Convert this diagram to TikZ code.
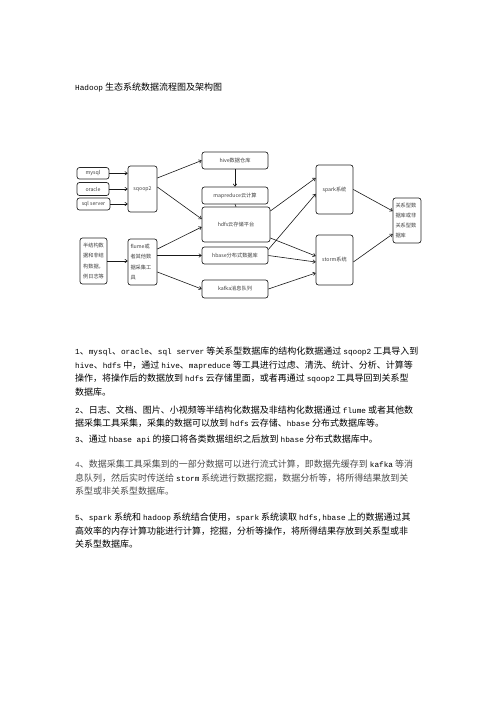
\documentclass[tikz,border=0pt]{standalone}
\usepackage{fontspec}
\usetikzlibrary{arrows.meta}
\setmainfont{Noto Sans CJK SC}
\setmonofont[Scale=0.86]{Liberation Mono}
\newcommand\lt[1]{\texttt{#1}}
\begin{document}
\begin{tikzpicture}[x=1pt,y=-1pt,
  box/.style={draw=black!85,line width=0.7pt,rounded corners=2.5pt,inner sep=0pt,
    font=\fontsize{5.2}{10.2}\selectfont,text=black!75},
  arr/.style={-{To[length=3pt,width=4pt]},line width=0.6pt,black!90},
  ln/.style={line width=0.6pt,black!90},
  para/.style={anchor=west,inner sep=0pt,font=\fontsize{9}{11}\selectfont,text height=7pt,text depth=2pt},
  ttl/.style={anchor=west,inner sep=0pt,font=\fontsize{9}{11}\selectfont,text height=7pt,text depth=2pt}]
\useasboundingbox[fill=white] (0,0) rectangle (496,702);

% title
\node[ttl] (title) at (75,88) {\lt{Hadoop} 生态系统数据流程图及架构图};

% boxes
\node[box,minimum width=32pt,minimum height=11.5pt] (mysql) at (93,173.3) {mysql};
\node[box,minimum width=32pt,minimum height=13pt] (oracle) at (93,189) {oracle};
\node[box,minimum width=33pt,minimum height=12pt] (sqls) at (93.5,204) {sql server};
\node[box,minimum width=29pt,minimum height=46pt] (sqoop) at (142.5,189) {sqoop2};
\node[box,minimum width=27pt,minimum height=46pt,align=left] (semi) at (93.5,261) {半结构数\\据和非结\\构数据，\\例日志等};
\node[box,minimum width=29pt,minimum height=46pt,align=left,text width=24pt] (flume) at (142.5,262) {flume或\\者其他数\\据采集工\\具};
\node[box,minimum width=66pt,minimum height=17pt] (hive) at (235,160.5) {hive数据仓库};
\node[box,minimum width=66pt,minimum height=17pt] (mapr) at (235,195.5) {mapreduce云计算};
\node[box,minimum width=68pt,minimum height=35pt] (hdfs) at (236,224.5) {hdfs云存储平台};
\node[box,minimum width=66pt,minimum height=17pt] (hbase) at (235,255.5) {hbase分布式数据库};
\node[box,minimum width=66pt,minimum height=18pt] (kafka) at (235,289) {kafka消息队列};
\node[box,minimum width=37pt,minimum height=49pt] (spark) at (334.5,189.5) {spark系统};
\node[box,minimum width=37pt,minimum height=50pt] (storm) at (334.5,260) {storm系统};
\node[box,minimum width=28pt,minimum height=45pt,align=left,text width=23pt] (rdb) at (407,220.5) {关系型数\\据库或非\\关系型数\\据库};

% connectors
\draw[arr] (mysql.east) -- (mysql.east -| sqoop.west);
\draw[arr] (oracle.east) -- (oracle.east -| sqoop.west);
\draw[arr] (sqls.east) -- (sqls.east -| sqoop.west);
\draw[arr] (semi.east) -- (semi.east -| flume.west);
\draw[arr] ([yshift=11pt]sqoop.east) -- (hive.west);
\draw[arr] ([yshift=2pt]sqoop.east) -- ([yshift=5.5pt]hdfs.west);
\draw[arr] ([yshift=13pt]flume.east) -- ([yshift=-2.5pt]hdfs.west);
\draw[arr] (flume.east |- hbase.west) -- (hbase.west);
\draw[arr] ([yshift=-10pt]flume.east) -- (kafka.west);
\draw[arr] (hive.south) -- (mapr.north);
\draw[ln] (mapr.south) -- (hdfs.north);
\draw[arr] ([yshift=13.5pt]hdfs.east) -- ([yshift=11.5pt]spark.west);
\draw[arr] ([yshift=6pt]hbase.east) -- ([yshift=-4.5pt]spark.west);
\draw[arr] ([yshift=-13.5pt]hdfs.east) -- ([yshift=4pt]storm.west);
\draw[arr] (hbase.east) -- ([yshift=-2pt]storm.west);
\draw[arr] (kafka.east) -- ([yshift=-13pt]storm.west);
\draw[arr] (spark.east) -- ([yshift=9.5pt]rdb.west);
\draw[arr] ([yshift=-2pt]storm.east) -- ([yshift=-13.5pt]rdb.west);

% paragraphs
\node[para] (p1a) at (75,352) {\lt{1}、\lt{mysql}、\lt{oracle}、\lt{sql server} 等关系型数据库的结构化数据通过 \lt{sqoop2} 工具导入到};
\node[para] (p1b) at (75,365.5) {\lt{hive}、\lt{hdfs} 中，通过 \lt{hive}、\lt{mapreduce} 等工具进行过虑、清洗、统计、分析、计算等};
\node[para] (p1c) at (75,379) {操作，将操作后的数据放到 \lt{hdfs} 云存储里面，或者再通过 \lt{sqoop2} 工具导回到关系型};
\node[para] (p1d) at (75,392.5) {数据库。};
\node[para] (p2a) at (75,410.5) {\lt{2}、日志、文档、图片、小视频等半结构化数据及非结构化数据通过 \lt{flume} 或者其他数};
\node[para] (p2b) at (75,424) {据采集工具采集，采集的数据可以放到 \lt{hdfs} 云存储、\lt{hbase} 分布式数据库等。};
\node[para] (p3a) at (75,440) {\lt{3}、通过 \lt{hbase api} 的接口将各类数据组织之后放到 \lt{hbase} 分布式数据库中。};
\node[para,text=black!70] (p4a) at (75,465) {\lt{4}、数据采集工具采集到的一部分数据可以进行流式计算，即数据先缓存到 \textcolor{black}{\lt{kafka}} 等消};
\node[para,text=black!70] (p4b) at (75,478.5) {息队列，然后实时传送给 \textcolor{black}{\lt{storm}} 系统进行数据挖掘，数据分析等，将所得结果放到关};
\node[para,text=black!70] (p4c) at (75,492) {系型或非关系型数据库。};
\node[para] (p5a) at (75,518) {\lt{5}、\lt{spark} 系统和 \lt{hadoop} 系统结合使用，\lt{spark} 系统读取 \lt{hdfs,hbase} 上的数据通过其};
\node[para] (p5b) at (75,531.5) {高效率的内存计算功能进行计算，挖掘，分析等操作，将所得结果存放到关系型或非};
\node[para] (p5c) at (75,545) {关系型数据库。};
\end{tikzpicture}
\end{document}
